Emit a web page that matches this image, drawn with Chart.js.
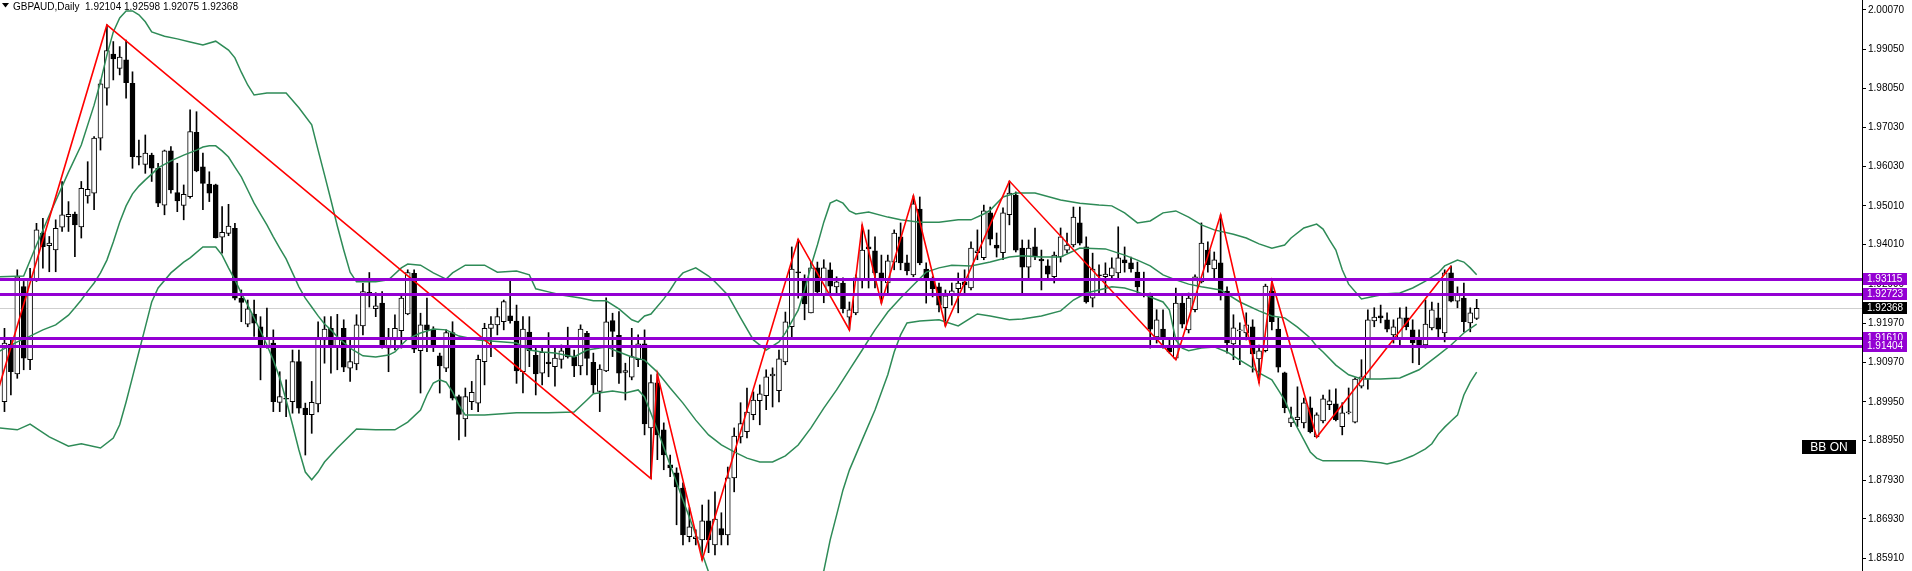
<!DOCTYPE html>
<html>
<head>
<meta charset="utf-8">
<script src="https://cdn.jsdelivr.net/npm/chart.js@4"></script>
<style>
  html, body { margin: 0; padding: 0; background: #fff; overflow: hidden; }
</style>
</head>
<body>
<canvas id="price-chart" width="1912" height="571"></canvas>
<script>
// GBPAUD daily candles, oldest first
const opens = [
  1.8996,1.9144,1.9067,1.9293,1.9104,1.9310,1.9430,1.9398,1.9387,1.9446,1.9473,1.9480,1.9447,1.9527,1.9534,1.9676,1.9805,1.9893,1.9856,1.9878,
  1.9817,1.9629,1.9608,1.9632,1.9598,1.9503,1.9643,1.9535,1.9502,1.9525,1.9691,1.9602,1.9557,1.9555,1.9420,1.9430,1.9443,1.9263,1.9196,1.9222,
  1.9189,1.9136,1.9147,1.8994,1.9004,1.8996,1.9099,1.8979,1.8962,1.8990,1.9155,1.9185,1.9136,1.9185,1.9082,1.9093,1.9191,1.9276,1.9236,1.9250,
  1.9134,1.9155,1.9179,1.9222,1.9327,1.9127,1.9194,1.9183,1.9114,1.9082,1.9174,1.9009,1.8951,1.8996,1.8992,1.9099,1.9185,1.9194,1.9202,1.9217,
  1.9204,1.9073,1.9175,1.9115,1.9069,1.9098,1.9086,1.9105,1.9136,1.9112,1.9088,1.9172,1.9097,1.9022,1.9075,1.9205,1.9167,1.9071,1.9059,1.9104,
  1.9145,1.8928,1.9044,1.8923,1.8833,1.8812,1.8773,1.8647,1.8642,1.8639,1.8688,1.8626,1.8668,1.8652,1.8799,1.8905,1.8918,1.8962,1.8998,1.9011,
  1.9062,1.9024,1.9098,1.9189,1.9331,1.9310,1.9225,1.9341,1.9269,1.9336,1.9292,1.9302,1.9214,1.9225,1.9310,1.9395,1.9385,1.9328,1.9302,1.9356,
  1.9421,1.9354,1.9323,1.9493,1.9338,1.9310,1.9292,1.9238,1.9269,1.9287,1.9305,1.9289,1.9380,1.9367,1.9483,1.9400,1.9380,1.9478,1.9529,1.9392,
  1.9343,1.9395,1.9364,1.9346,1.9318,1.9369,1.9387,1.9400,1.9457,1.9395,1.9263,1.9323,1.9318,1.9320,1.9328,1.9362,1.9354,1.9330,1.9271,1.9271,
  1.9163,1.9183,1.9137,1.9108,1.9250,1.9181,1.9233,1.9305,1.9387,1.9338,1.9354,1.9281,1.9145,1.9178,1.9173,1.9189,1.9106,1.9127,1.9281,1.9183,
  1.9070,1.8941,1.8949,1.8941,1.8980,1.8905,1.8946,1.8988,1.8990,1.8931,1.8967,1.8943,1.9036,1.9054,1.9204,1.9217,1.9207,1.9168,1.9160,1.9212,
  1.9181,1.9160,1.9142,1.9186,1.9212,1.9173,1.9328,1.9255,1.9263,1.9199,1.92104
];
const highs = [
  1.9185,1.9155,1.9336,1.9306,1.9340,1.9456,1.9469,1.9422,1.9465,1.9564,1.9512,1.9485,1.9564,1.9615,1.9680,1.9826,1.9968,1.9925,1.9912,1.9929,
  1.9847,1.9671,1.9684,1.9637,1.9611,1.9645,1.9654,1.9611,1.9555,1.9749,1.9744,1.9637,1.9589,1.9557,1.9499,1.9505,1.9456,1.9284,1.9258,1.9258,
  1.9215,1.9237,1.9181,1.9073,1.9052,1.9129,1.9129,1.8992,1.9048,1.9202,1.9215,1.9215,1.9221,1.9207,1.9160,1.9220,1.9301,1.9329,1.9277,1.9280,
  1.9185,1.9220,1.9271,1.9336,1.9336,1.9224,1.9263,1.9189,1.9121,1.9181,1.9202,1.9013,1.9031,1.9048,1.9116,1.9198,1.9215,1.9237,1.9258,1.9314,
  1.9245,1.9215,1.9215,1.9138,1.9138,1.9174,1.9140,1.9142,1.9188,1.9129,1.9194,1.9177,1.9121,1.9091,1.9264,1.9224,1.9228,1.9095,1.9185,1.9168,
  1.9181,1.9065,1.9067,1.8941,1.8858,1.8825,1.8786,1.8722,1.8665,1.8729,1.8742,1.8763,1.8709,1.8827,1.8928,1.8993,1.9031,1.9021,1.9039,1.9078,
  1.9083,1.9129,1.9227,1.9395,1.9415,1.9323,1.9356,1.9356,1.9362,1.9354,1.9318,1.9315,1.9253,1.9323,1.9452,1.9439,1.9421,1.9374,1.9374,1.9439,
  1.9457,1.9374,1.9527,1.9524,1.9354,1.9318,1.9302,1.9284,1.9302,1.9328,1.9336,1.9408,1.9439,1.9503,1.9498,1.9431,1.9496,1.9565,1.9537,1.9413,
  1.9413,1.9444,1.9387,1.9362,1.9382,1.9444,1.9431,1.9498,1.9498,1.9421,1.9379,1.9349,1.9354,1.9367,1.9447,1.9395,1.9369,1.9356,1.9330,1.9276,
  1.9233,1.9233,1.9155,1.9289,1.9271,1.9276,1.9323,1.9457,1.9408,1.9382,1.9478,1.9292,1.9220,1.9199,1.9225,1.9207,1.9142,1.9299,1.9307,1.9212,
  1.9072,1.8982,1.9034,1.9005,1.9008,1.8967,1.9013,1.9026,1.9029,1.8993,1.9031,1.9057,1.9104,1.9233,1.9238,1.9245,1.9225,1.9207,1.9238,1.9240,
  1.9207,1.9181,1.9258,1.9253,1.9250,1.9336,1.9346,1.9292,1.9302,1.9238,1.92598
];
const lows = [
  1.8970,1.9013,1.9056,1.9078,1.9078,1.9306,1.9340,1.9331,1.9331,1.9435,1.9435,1.9370,1.9418,1.9508,1.9491,1.9645,1.9761,1.9826,1.9839,1.9779,
  1.9598,1.9607,1.9585,1.9564,1.9499,1.9478,1.9534,1.9486,1.9465,1.9521,1.9589,1.9491,1.9512,1.9418,1.9379,1.9424,1.9258,1.9202,1.9189,1.9164,
  1.9052,1.9134,1.8970,1.8970,1.8957,1.8966,1.8966,1.8858,1.8914,1.8969,1.9095,1.9069,1.9078,1.9073,1.9048,1.9078,1.9168,1.9240,1.9215,1.9134,
  1.9073,1.9129,1.9134,1.9220,1.9122,1.9018,1.9125,1.9125,1.9018,1.9073,1.9000,1.8897,1.8906,1.8975,1.8970,1.9039,1.9112,1.9168,1.9181,1.9198,
  1.9043,1.9018,1.9086,1.9013,1.9039,1.9060,1.9036,1.9082,1.9108,1.9060,1.9065,1.9065,1.9018,1.8970,1.9073,1.9112,1.9043,1.9000,1.9052,1.9086,
  1.8910,1.8797,1.8846,1.8820,1.8802,1.8678,1.8626,1.8634,1.8626,1.8587,1.8606,1.8600,1.8626,1.8626,1.8763,1.8889,1.8902,1.8949,1.8936,1.8975,
  1.8982,1.8995,1.9091,1.9163,1.9263,1.9207,1.9225,1.9271,1.9251,1.9271,1.9271,1.9225,1.9181,1.9220,1.9289,1.9289,1.9289,1.9250,1.9271,1.9336,
  1.9336,1.9323,1.9318,1.9349,1.9250,1.9266,1.9227,1.9191,1.9245,1.9225,1.9271,1.9284,1.9362,1.9362,1.9400,1.9369,1.9362,1.9452,1.9382,1.9276,
  1.9310,1.9362,1.9284,1.9310,1.9302,1.9356,1.9380,1.9395,1.9400,1.9250,1.9240,1.9276,1.9276,1.9310,1.9310,1.9330,1.9330,1.9271,1.9266,1.9134,
  1.9147,1.9134,1.9121,1.9104,1.9186,1.9173,1.9227,1.9302,1.9330,1.9310,1.9258,1.9121,1.9104,1.9091,1.9155,1.9072,1.9044,1.9124,1.9181,1.9072,
  1.8967,1.8931,1.8931,1.8928,1.8915,1.8904,1.8941,1.8975,1.8946,1.8910,1.8964,1.8941,1.9031,1.9028,1.9189,1.9199,1.9176,1.9147,1.9137,1.9181,
  1.9096,1.9091,1.9134,1.9181,1.9163,1.9150,1.9253,1.9238,1.9176,1.9176,1.92075
];
const closes = [
  1.9147,1.9073,1.9318,1.9108,1.9314,1.9439,1.9396,1.9405,1.9443,1.9478,1.9479,1.9452,1.9546,1.9544,1.9676,1.9816,1.9902,1.9880,1.9885,1.9819,
  1.9628,1.9627,1.9637,1.9598,1.9508,1.9643,1.9542,1.9514,1.9531,1.9693,1.9591,1.9559,1.9534,1.9419,1.9433,1.9449,1.9263,1.9252,1.9235,1.9198,
  1.9138,1.9160,1.8996,1.9009,1.9002,1.9099,1.8979,1.8962,1.8994,1.9158,1.9183,1.9138,1.9160,1.9085,1.9099,1.9194,1.9280,1.9275,1.9243,1.9136,
  1.9157,1.9185,1.9263,1.9329,1.9131,1.9194,1.9181,1.9138,1.9088,1.9174,1.9005,1.8963,1.9009,1.9020,1.9105,1.9185,1.9196,1.9215,1.9254,1.9205,
  1.9075,1.9183,1.9127,1.9067,1.9123,1.9094,1.9108,1.9127,1.9111,1.9088,1.9183,1.9107,1.9039,1.9080,1.9202,1.9177,1.9069,1.9076,1.9112,1.9145,
  1.8938,1.9045,1.8910,1.8858,1.8825,1.8776,1.8652,1.8673,1.8647,1.8688,1.8639,1.8693,1.8652,1.8799,1.8907,1.8939,1.8969,1.9000,1.9016,1.9060,
  1.9067,1.9106,1.9202,1.9338,1.9328,1.9248,1.9341,1.9279,1.9341,1.9294,1.9305,1.9235,1.9233,1.9315,1.9387,1.9390,1.9328,1.9307,1.9359,1.9431,
  1.9354,1.9333,1.9506,1.9354,1.9310,1.9287,1.9245,1.9269,1.9282,1.9302,1.9297,1.9392,1.9385,1.9488,1.9415,1.9392,1.9483,1.9534,1.9387,1.9343,
  1.9392,1.9369,1.9359,1.9325,1.9374,1.9421,1.9400,1.9472,1.9405,1.9253,1.9338,1.9320,1.9325,1.9341,1.9367,1.9354,1.9338,1.9292,1.9270,1.9183,
  1.9207,1.9158,1.9124,1.9250,1.9196,1.9263,1.9318,1.9405,1.9349,1.9362,1.9271,1.9147,1.9186,1.9181,1.9194,1.9119,1.9127,1.9294,1.9202,1.9085,
  1.8980,1.8954,1.8956,1.8993,1.8918,1.8962,1.9003,1.8998,1.8949,1.8967,1.8968,1.9054,1.9060,1.9207,1.9214,1.9212,1.9183,1.9189,1.9212,1.9189,
  1.9147,1.9140,1.9196,1.9233,1.9183,1.9328,1.9255,1.9274,1.9202,1.9225,1.92368
];

// Bollinger bands (bar index, price)
const upperIdx = [-1,3,5,7,10,12,14,15,16,17,18,19,20,21,22,23,25,27,29,31,33,35,36,37,38,39,41,44,46,48,49,50,51,52,53,54,55,58,60,62,63,65,67,69,70,72,75,77,80,82,83,85,87,90,92,94,96,98,99,100,101,103,104,105,106,108,110,111,113,115,117,119,121,122,124,125,126,127,128,129,130,131,132,133,135,138,140,143,146,149,151,153,154,156,158,161,165,168,171,173,175,177,179,181,183,185,187,189,192,194,196,198,200,201,203,205,206,207,208,209,210,212,214,216,218,220,222,224,225,227,228,229,230];
const upperVal = [1.9318,1.9320,1.9400,1.9477,1.9588,1.9658,1.9761,1.9821,1.9890,1.9950,1.9986,2.0004,2.0004,1.9994,1.9976,1.9950,1.9939,1.9932,1.9924,1.9916,1.9926,1.9903,1.9883,1.9846,1.9813,1.9787,1.9792,1.9792,1.9754,1.9710,1.9645,1.9581,1.9516,1.9449,1.9387,1.9330,1.9305,1.9305,1.9310,1.9341,1.9351,1.9348,1.9328,1.9312,1.9328,1.9348,1.9348,1.9330,1.9333,1.9323,1.9287,1.9279,1.9271,1.9263,1.9256,1.9256,1.9235,1.9207,1.9201,1.9217,1.9222,1.9261,1.9284,1.9310,1.9328,1.9341,1.9320,1.9305,1.9271,1.9212,1.9155,1.9129,1.9150,1.9173,1.9232,1.9284,1.9346,1.9400,1.9459,1.9508,1.9516,1.9508,1.9488,1.9480,1.9485,1.9472,1.9465,1.9459,1.9459,1.9465,1.9465,1.9480,1.9490,1.9524,1.9534,1.9534,1.9516,1.9508,1.9503,1.9501,1.9483,1.9457,1.9462,1.9483,1.9488,1.9472,1.9452,1.9439,1.9428,1.9418,1.9403,1.9392,1.9400,1.9418,1.9444,1.9454,1.9441,1.9413,1.9387,1.9336,1.9299,1.9261,1.9268,1.9274,1.9276,1.9289,1.9307,1.9328,1.9346,1.9361,1.9356,1.9341,1.9323];
const middleIdx = [-1,2,4,6,8,10,11,12,13,14,15,16,17,18,19,20,21,22,23,24,26,28,30,31,32,33,34,35,36,37,38,39,40,41,42,43,44,45,46,47,48,49,50,51,52,54,56,58,60,61,62,63,65,67,69,71,74,78,80,82,84,86,89,91,94,96,98,100,102,104,106,108,110,112,114,116,118,120,122,124,126,128,130,132,134,136,138,140,142,144,146,148,151,154,157,159,162,165,168,172,175,177,179,181,183,185,187,190,193,196,198,200,202,204,205,206,208,210,212,215,218,221,224,226,228,230];
const middleVal = [1.9124,1.9150,1.9165,1.9181,1.9194,1.9219,1.9238,1.9258,1.9281,1.9302,1.9328,1.9361,1.9408,1.9459,1.9501,1.9532,1.9552,1.9568,1.9583,1.9599,1.9617,1.9632,1.9645,1.9653,1.9656,1.9656,1.9643,1.9627,1.9601,1.9576,1.9542,1.9508,1.9480,1.9452,1.9421,1.9392,1.9364,1.9328,1.9292,1.9263,1.9240,1.9217,1.9196,1.9181,1.9163,1.9134,1.9114,1.9111,1.9116,1.9124,1.9142,1.9158,1.9173,1.9183,1.9181,1.9165,1.9155,1.9150,1.9147,1.9129,1.9124,1.9121,1.9111,1.9129,1.9137,1.9124,1.9111,1.9103,1.9072,1.9031,1.8992,1.8948,1.8910,1.8884,1.8866,1.8850,1.8840,1.8840,1.8856,1.8884,1.8928,1.8979,1.9026,1.9078,1.9129,1.9181,1.9227,1.9263,1.9297,1.9330,1.9341,1.9348,1.9346,1.9356,1.9369,1.9372,1.9369,1.9369,1.9392,1.9390,1.9374,1.9361,1.9346,1.9323,1.9310,1.9299,1.9292,1.9284,1.9253,1.9230,1.9217,1.9212,1.9188,1.9160,1.9139,1.9124,1.9090,1.9065,1.9054,1.9054,1.9057,1.9078,1.9116,1.9142,1.9173,1.9196];
const lowerIdx = [-1,2,4,7,10,12,15,17,18,19,20,21,22,23,24,26,28,29,31,33,34,35,36,37,38,39,40,41,42,43,44,45,46,47,48,49,50,52,55,58,61,63,65,66,67,68,69,70,71,72,75,80,85,89,91,92,95,97,99,100,102,104,106,108,110,112,115,118,121,124,126,128,129,130,131,132,134,136,138,139,140,141,143,146,149,151,152,154,157,159,162,165,167,169,171,173,175,177,179,181,182,183,184,185,187,189,191,193,195,196,198,199,200,201,202,203,204,205,206,209,212,215,216,218,220,222,223,224,225,226,227,228,229,230];
const lowerVal = [1.8928,1.8923,1.8938,1.8905,1.8881,1.8887,1.8876,1.8902,1.8936,1.8995,1.9059,1.9124,1.9188,1.9253,1.9289,1.9328,1.9356,1.9367,1.9395,1.9395,1.9374,1.9341,1.9310,1.9276,1.9245,1.9212,1.9178,1.9142,1.9103,1.9057,1.9000,1.8936,1.8871,1.8814,1.8794,1.8814,1.8840,1.8876,1.8925,1.8923,1.8923,1.8943,1.8974,1.9013,1.9044,1.9052,1.9046,1.9021,1.8987,1.8961,1.8961,1.8967,1.8967,1.8969,1.9000,1.9016,1.9023,1.9018,1.9026,1.9008,1.8923,1.8832,1.8742,1.8652,1.8556,1.8497,1.8458,1.8448,1.8458,1.8484,1.8515,1.8559,1.8639,1.8703,1.8768,1.8819,1.8897,1.8974,1.9065,1.9124,1.9168,1.9199,1.9204,1.9207,1.9191,1.9212,1.9222,1.9217,1.9207,1.9209,1.9217,1.9230,1.9258,1.9276,1.9284,1.9292,1.9289,1.9279,1.9266,1.9253,1.9232,1.9155,1.9134,1.9127,1.9134,1.9137,1.9124,1.9103,1.9083,1.9070,1.9052,1.9026,1.9000,1.8961,1.8928,1.8897,1.8866,1.8850,1.8843,1.8843,1.8843,1.8838,1.8835,1.8843,1.8856,1.8874,1.8887,1.8912,1.8930,1.8946,1.8961,1.9013,1.9046,1.9072];

// zigzag turning points (bar index, price)
const zigzagIdx = [-3,16,101,102,109,124,132,134,137,142,147,157,183,190,196,198,205,226];
const zigzagVal = [1.8914,1.9968,1.8797,1.9067,1.8587,1.9415,1.9181,1.9452,1.9250,1.9527,1.9191,1.9565,1.9104,1.9478,1.9044,1.9307,1.8904,1.9346];

// horizontal levels and axis ticks
const levels = [1.93115, 1.92723, 1.91610, 1.91404];
const yTicks = [2.00070,1.99050,1.98050,1.97030,1.96030,1.95010,1.94010,1.92990,1.91970,1.90970,1.89950,1.88950,1.87930,1.86930,1.85910];

const last = closes.length - 1;
const bid = closes[last];
const candleIdx = closes.map((c, i) => i);
const pairs = (xs, ys) => xs.map((x, k) => ({ x: x, y: ys[k] }));

Chart.defaults.font.family = '"Liberation Sans", Arial, sans-serif';
Chart.defaults.font.size = 10;
Chart.defaults.color = '#000';

// lines, price boxes and captions
const overlay = {
  id: 'overlay',
  beforeDatasetsDraw(chart) {
    const { ctx, chartArea: a, scales: { y } } = chart;
    const p = Math.round(y.getPixelForValue(bid)) + 0.5;
    ctx.save();
    ctx.strokeStyle = '#cfcfcf';
    ctx.lineWidth = 1;
    ctx.beginPath();
    ctx.moveTo(a.left, p);
    ctx.lineTo(a.right, p);
    ctx.stroke();
    ctx.restore();
  },
  afterDatasetsDraw(chart) {
    const { ctx, chartArea: a, scales: { y } } = chart;
    ctx.save();
    ctx.strokeStyle = '#9400d3';
    ctx.lineWidth = 3;
    levels.forEach(v => {
      const p = Math.round(y.getPixelForValue(v)) + 0.5;
      ctx.beginPath();
      ctx.moveTo(a.left, p);
      ctx.lineTo(a.right, p);
      ctx.stroke();
    });
    ctx.restore();
  },
  afterDraw(chart) {
    const { ctx, chartArea: a, scales: { y } } = chart;
    ctx.save();
    ctx.font = '10px "Liberation Sans", Arial, sans-serif';
    ctx.textBaseline = 'middle';
    ctx.textAlign = 'left';

    const box = (v, bg) => {
      const p = Math.round(y.getPixelForValue(v));
      ctx.fillStyle = bg;
      ctx.fillRect(a.right + 1, p - 6, 44, 12);
      ctx.fillStyle = '#fff';
      ctx.fillText(v.toFixed(5), a.right + 5, p + 0.5);
    };
    box(levels[0], '#9400d3');
    box(levels[1], '#9400d3');
    box(bid, '#000');
    box(levels[2], '#9400d3');
    box(levels[3], '#9400d3');

    // header
    ctx.fillStyle = '#000';
    ctx.beginPath();
    ctx.moveTo(2, 3);
    ctx.lineTo(9, 3);
    ctx.lineTo(5.5, 7.5);
    ctx.closePath();
    ctx.fill();
    ctx.textBaseline = 'alphabetic';
    const ohlc = [opens[last], highs[last], lows[last], closes[last]].map(v => v.toFixed(5)).join(' ');
    ctx.fillText('GBPAUD,Daily  ' + ohlc, 13, 10);

    // BB ON label
    ctx.fillStyle = '#000';
    ctx.fillRect(a.right - 60, 440, 54, 14);
    ctx.fillStyle = '#fff';
    ctx.font = '12px "Liberation Sans", Arial, sans-serif';
    ctx.textAlign = 'center';
    ctx.textBaseline = 'middle';
    ctx.fillText('BB ON', a.right - 33, 447.5);
    ctx.restore();
  }
};

const band = (data, order) => ({
  type: 'line',
  data: data,
  borderColor: '#2e8b57',
  borderWidth: 1.5,
  pointRadius: 0,
  fill: false,
  tension: 0,
  order: order
});

const chartCanvas = document.getElementById('price-chart');

let priceChart = new Chart(chartCanvas, {
  type: 'bar',
  data: {
    datasets: [
      {
        type: 'line',
        data: pairs(zigzagIdx, zigzagVal),
        borderColor: '#ff0000',
        borderWidth: 1.6,
        pointRadius: 0,
        fill: false,
        tension: 0,
        order: 0
      },
      band(pairs(upperIdx, upperVal), 1),
      band(pairs(middleIdx, middleVal), 1),
      band(pairs(lowerIdx, lowerVal), 1),
      {
        data: candleIdx.map(i => ({ x: i, y: [opens[i], closes[i]] })),
        backgroundColor: candleIdx.map(i => closes[i] >= opens[i] ? '#fff' : '#000'),
        borderColor: '#000',
        borderWidth: 1,
        borderSkipped: false,
        barThickness: 5,
        minBarLength: 1,
        grouped: false,
        order: 2
      },
      {
        data: candleIdx.map(i => ({ x: i, y: [lows[i], highs[i]] })),
        backgroundColor: '#000',
        barThickness: 1,
        grouped: false,
        order: 3
      }
    ]
  },
  options: {
    responsive: false,
    devicePixelRatio: 1,
    animation: false,
    events: [],
    layout: { padding: 0 },
    scales: {
      x: {
        type: 'linear',
        display: false,
        offset: false,
        min: -0.7,
        max: 290.2
      },
      y: {
        type: 'linear',
        position: 'right',
        min: 1.85587,
        max: 2.00323,
        afterBuildTicks: scale => {
          scale.ticks = yTicks.map(v => ({ value: v }));
        },
        afterFit: scale => {
          scale.width = 50;
          scale.paddingTop = 0;
          scale.paddingBottom = 0;
        },
        ticks: {
          autoSkip: false,
          padding: 2,
          color: '#000',
          font: { size: 10 },
          callback: v => v.toFixed(5)
        },
        grid: {
          drawOnChartArea: false,
          tickLength: 4,
          color: '#000'
        },
        border: { color: '#000' }
      }
    },
    plugins: {
      legend: { display: false },
      tooltip: { enabled: false }
    }
  },
  plugins: [overlay]
});
</script>
</body>
</html>
